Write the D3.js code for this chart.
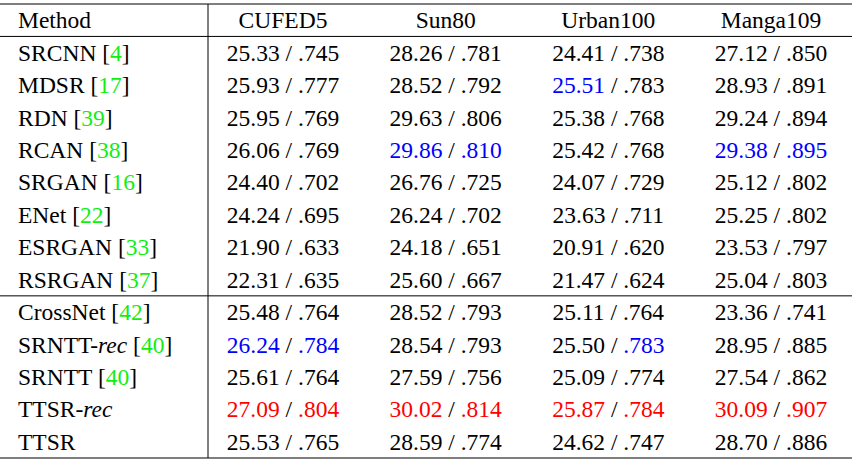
<!DOCTYPE html><html><head><meta charset="utf-8">
<script src="https://cdn.jsdelivr.net/npm/d3@7"></script>
<style>body{margin:0;background:#fff}text{font-family:"Liberation Serif","Times New Roman",serif;font-size:23.5px}</style>
</head><body><svg id="c" width="852" height="464"></svg>
<script>
const columns=["CUFED5","Sun80","Urban100","Manga109"];
const methods=["SRCNN","MDSR","RDN","RCAN","SRGAN","ENet","ESRGAN","RSRGAN","CrossNet","SRNTT-rec","SRNTT","TTSR-rec","TTSR"];
const refs=["4","17","39","38","16","22","33","37","42","40","40","",""];
const psnr=[[25.33,28.26,24.41,27.12],[25.93,28.52,25.51,28.93],[25.95,29.63,25.38,29.24],[26.06,29.86,25.42,29.38],[24.40,26.76,24.07,25.12],[24.24,26.24,23.63,25.25],[21.90,24.18,20.91,23.53],[22.31,25.60,21.47,25.04],[25.48,28.52,25.11,23.36],[26.24,28.54,25.50,28.95],[25.61,27.59,25.09,27.54],[27.09,30.02,25.87,30.09],[25.53,28.59,24.62,28.70]];
const ssim=[[.745,.781,.738,.850],[.777,.792,.783,.891],[.769,.806,.768,.894],[.769,.810,.768,.895],[.702,.725,.729,.802],[.695,.702,.711,.802],[.633,.651,.620,.797],[.635,.667,.624,.803],[.764,.793,.764,.741],[.784,.793,.783,.885],[.764,.756,.774,.862],[.804,.814,.784,.907],[.765,.774,.747,.886]];
const hlP=[["","","",""],["","","b",""],["","","",""],["","b","","b"],["","","",""],["","","",""],["","","",""],["","","",""],["","","",""],["b","","",""],["","","",""],["r","r","r","r"],["","","",""]];
const hlS=[["","","",""],["","","",""],["","","",""],["","b","","b"],["","","",""],["","","",""],["","","",""],["","","",""],["","","",""],["b","","b",""],["","","",""],["r","r","r","r"],["","","",""]];
const col={r:"#ff0000",b:"#0000ff","":"#000"};
const svg=d3.select("#c");
const y=d3.scaleBand().domain(["h"].concat(methods)).range([4,458]);
const x=d3.scalePoint().domain(columns).range([283,771]);
const fmtS=v=>d3.format(".3f")(v).replace(/^0/,"");
const cy=k=>y(k)+y.bandwidth()/2+8;
svg.append("text").attr("x",18).attr("y",cy("h")).text("Method");
columns.forEach(c=>svg.append("text").attr("x",x(c)).attr("y",cy("h")).attr("text-anchor","middle").text(c));
methods.forEach((m,i)=>{
  const t=svg.append("text").attr("x",18).attr("y",cy(m));
  const parts=m.split("-");
  t.append("tspan").text(parts[0]+(parts[1]?"-":""));
  if(parts[1])t.append("tspan").attr("font-style","italic").text(parts[1]);
  if(refs[i]){t.append("tspan").text(" [");t.append("tspan").attr("fill","#11ee11").text(refs[i]);t.append("tspan").text("]");}
  columns.forEach((c,j)=>{
    const s=svg.append("text").attr("x",x(c)).attr("y",cy(m)).attr("text-anchor","middle");
    s.append("tspan").attr("fill",col[hlP[i][j]]).text(psnr[i][j].toFixed(2));
    s.append("tspan").text(" / ");
    s.append("tspan").attr("fill",col[hlS[i][j]]).text(fmtS(ssim[i][j]));
  });
});
const line=(x1,x2,yy,w)=>svg.append("line").attr("x1",x1).attr("x2",x2).attr("y1",yy).attr("y2",yy).attr("stroke","#000").attr("stroke-width",w);
line(0,852,y("h"),1.2);
line(0,852,y(methods[0]),1);
line(0,852,y("CrossNet"),1);
line(0,852,458,1.2);
svg.append("line").attr("x1",208).attr("x2",208).attr("y1",y("h")).attr("y2",458).attr("stroke","#000").attr("stroke-width",1);
</script></body></html>
